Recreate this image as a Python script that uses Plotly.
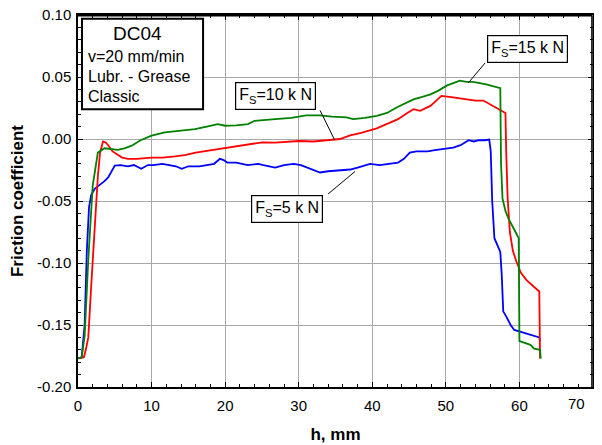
import plotly.graph_objects as go

# ---- data ----
h_5kN = [0.0, 0.5, 0.9, 1.2, 1.5, 1.8, 2.3, 3.0, 3.6, 4.1, 4.6, 5.0, 5.8, 6.8, 7.6, 8.6, 9.5, 10.2,
         11.5, 12.5, 13.3, 14.1, 15.0, 16.5, 17.5, 18.5, 19.3, 19.8, 20.3, 21.5, 23.1, 24.5, 25.2, 26.0,
         26.8, 28.0, 29.3, 30.3, 31.5, 32.9, 34.0, 35.5, 37.0, 38.0, 39.0, 39.7, 41.0, 42.4, 43.5, 44.3,
         45.1, 46.0, 47.5, 48.5, 50.1, 51.0, 52.0, 53.1, 53.8, 54.5, 55.3, 55.9, 56.1, 56.3, 56.6, 57.0,
         57.4, 57.6, 57.8, 58.2, 58.8, 59.3, 60.5, 61.5, 62.7, 62.8]
mu_5kN = [-0.177, -0.176, -0.150, -0.090, -0.055, -0.045, -0.040, -0.037, -0.034, -0.031, -0.025, -0.0215,
          -0.021, -0.022, -0.021, -0.024, -0.021, -0.021, -0.020, -0.021, -0.022, -0.024, -0.022, -0.022,
          -0.021, -0.020, -0.016, -0.017, -0.019, -0.019, -0.021, -0.020, -0.021, -0.022, -0.023, -0.021,
          -0.020, -0.021, -0.024, -0.027, -0.026, -0.025, -0.0246, -0.023, -0.021, -0.020, -0.021, -0.020,
          -0.019, -0.016, -0.011, -0.010, -0.010, -0.009, -0.008, -0.007, -0.005, -0.001, -0.002, -0.001,
          -0.001, -0.0005, -0.010, -0.050, -0.080, -0.086, -0.091, -0.110, -0.139, -0.143, -0.150, -0.154,
          -0.156, -0.158, -0.160, -0.163]

h_10kN = [0.2, 0.8, 1.1, 1.4, 1.8, 2.3, 2.7, 3.0, 3.4, 3.8, 4.1, 4.7, 5.4, 6.0, 6.8, 8.0, 10.0, 11.5,
          13.2, 14.5, 16.0, 17.7, 19.0, 20.0, 21.5, 23.0, 25.0, 26.8, 28.5, 30.0, 32.0, 34.2, 35.6, 37.0,
          38.5, 40.6, 42.0, 43.5, 44.5, 45.6, 46.5, 47.9, 48.7, 49.4, 51.0, 52.5, 54.0, 55.1, 56.3, 57.4,
          58.1, 58.2, 58.4, 58.7, 59.1, 59.6, 60.2, 61.0, 62.0, 62.7, 62.8]
mu_10kN = [-0.177, -0.176, -0.169, -0.160, -0.118, -0.064, -0.030, -0.011, -0.002, -0.003, -0.005, -0.010,
           -0.013, -0.015, -0.016, -0.016, -0.015, -0.015, -0.014, -0.013, -0.011, -0.0094, -0.0085,
           -0.0075, -0.006, -0.005, -0.0027, -0.003, -0.002, -0.0016, -0.002, -0.001, 0.000, 0.003, 0.005,
           0.0086, 0.012, 0.016, 0.020, 0.024, 0.0227, 0.0267, 0.031, 0.0348, 0.0335, 0.032, 0.031, 0.031,
           0.027, 0.024, 0.021, -0.010, -0.048, -0.075, -0.090, -0.099, -0.108, -0.114, -0.119, -0.123,
           -0.177]

h_15kN = [0.0, 0.5, 0.9, 1.4, 2.0, 2.7, 3.6, 4.5, 5.4, 6.3, 7.3, 8.5, 10.0, 11.8, 14.0, 15.9, 17.5, 19.0,
          20.0, 21.5, 23.1, 24.0, 26.8, 29.0, 31.0, 32.9, 34.5, 36.5, 37.4, 39.0, 40.6, 42.0, 43.3, 44.5,
          45.6, 46.8, 47.9, 49.0, 50.1, 51.0, 51.9, 52.8, 53.7, 55.5, 57.1, 57.4, 57.5, 57.7, 58.1, 58.5,
          59.2, 59.8, 59.9, 60.0, 61.5, 62.0, 62.8, 62.9]
mu_15kN = [-0.177, -0.176, -0.159, -0.097, -0.0375, -0.011, -0.0075, -0.008, -0.0088, -0.0075, -0.0054,
           -0.001, 0.0027, 0.0054, 0.007, 0.008, 0.010, 0.012, 0.0107, 0.011, 0.012, 0.0147, 0.016, 0.017,
           0.019, 0.019, 0.018, 0.0174, 0.016, 0.017, 0.0187, 0.021, 0.0254, 0.029, 0.032, 0.034, 0.036,
           0.039, 0.043, 0.045, 0.047, 0.046, 0.046, 0.044, 0.0415, 0.041, -0.020, -0.048, -0.058, -0.064,
           -0.072, -0.078, -0.080, -0.163, -0.166, -0.169, -0.170, -0.177]

y_tick_vals = [-0.20, -0.15, -0.10, -0.05, 0.00, 0.05, 0.10]
y_tick_labels = ["-0.20", "-0.15", "-0.10", "-0.05", "0.00", "0.05", "0.10"]
x_tick_vals = [0, 10, 20, 30, 40, 50, 60, 70]
x_tick_labels = ["0", "10", "20", "30", "40", "50", "60", ""]
x_last_label = "70"   # drawn pulled inward, as in the reference

info_lines = ["v=20 mm/min", "Lubr. - Grease", "Classic"]

FONT = "Liberation Sans, Arial, sans-serif"

fig = go.Figure()
for h, mu, col in [(h_5kN, mu_5kN, "#0000ff"), (h_10kN, mu_10kN, "#ff0000"), (h_15kN, mu_15kN, "#008000")]:
    fig.add_trace(go.Scatter(x=h, y=mu, mode="lines", line=dict(color=col, width=1.8), showlegend=False))

axis_common = dict(
    showline=True, linecolor="black", linewidth=1.5, mirror="allticks",
    ticks="inside", ticklen=5, tickcolor="black", tickwidth=1,
    showgrid=True, gridcolor="#a8a8a8", gridwidth=1.3, zeroline=False, automargin=False,
    ticklabeloverflow="allow",
    tickfont=dict(family=FONT, size=15, color="black"),
)

# the page adds an 8px body margin; the figure is sized to fill the 602x445 window
fig.update_layout(
    width=594, height=437,
    margin=dict(l=70, r=9, t=7, b=58),
    paper_bgcolor="white", plot_bgcolor="white",
    font=dict(family=FONT, color="black"),
    xaxis=dict(range=[0, 70], tickvals=x_tick_vals, ticktext=x_tick_labels, ticklabelstandoff=4,
               minor=dict(dtick=2, ticks="inside", ticklen=3, tickcolor="black", showgrid=False),
               title=dict(text="<b>h, mm</b>", font=dict(family=FONT, size=17)),
               **axis_common),
    yaxis=dict(range=[-0.20, 0.10], tickvals=y_tick_vals, ticktext=y_tick_labels, ticklabelstandoff=2,
               minor=dict(dtick=0.01, ticks="inside", ticklen=3, tickcolor="black", showgrid=False),
               title=dict(text="<b>Friction coefficient</b>", font=dict(family=FONT, size=17)),
               **axis_common),
)

fig.add_annotation(x=70, y=0, xref="x", yref="paper", yanchor="top", yshift=-6, xshift=-17,
                   text=x_last_label, showarrow=False, font=dict(family=FONT, size=15, color="black"))

# plot frame (top and right edges drawn explicitly)
fig.add_shape(type="line", xref="paper", yref="paper", x0=0, x1=0.999, y0=0.998, y1=0.998,
              line=dict(color="black", width=1.6), layer="above")
fig.add_shape(type="line", xref="paper", yref="paper", x0=0.998, x1=0.998, y0=0, y1=0.998,
              line=dict(color="black", width=1.6), layer="above")

# info box
fig.add_shape(type="rect", xref="x", yref="y", x0=0.54, x1=17.0, y0=0.0239, y1=0.097,
              line=dict(color="black", width=2), fillcolor="white", layer="above")
fig.add_annotation(x=8.06, y=0.0852, xref="x", yref="y", text="DC04", showarrow=False,
                   font=dict(family=FONT, size=19, color="black"))
for txt, yy in zip(info_lines, [0.0667, 0.0506, 0.034]):
    fig.add_annotation(x=1.1, y=yy, xref="x", yref="y", text=txt, showarrow=False, xanchor="left",
                       font=dict(family=FONT, size=16, color="black"))

# leader lines
for x0, y0, x1, y1 in [(55.33, 0.0613, 53.06, 0.0453), (32.9, 0.0231, 34.9, -0.001), (34.0, -0.0443, 37.65, -0.0262)]:
    fig.add_shape(type="line", xref="x", yref="y", x0=x0, y0=y0, x1=x1, y1=y1,
                  line=dict(color="black", width=1), layer="above")

for txt, xx, yy in [("F<sub>S</sub>=15 k N", 61.1, 0.0729), ("F<sub>S</sub>=10 k N", 26.83, 0.0348),
                    ("F<sub>S</sub>=5 k N", 28.46, -0.0567)]:
    fig.add_annotation(x=xx, y=yy, xref="x", yref="y", text=txt, showarrow=False,
                       bordercolor="black", borderwidth=1.2, borderpad=3, bgcolor="white",
                       font=dict(family=FONT, size=16, color="black"))

fig.write_html("out.html")
